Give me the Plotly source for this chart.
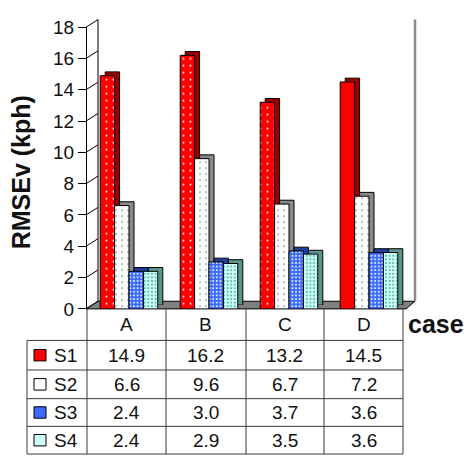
import plotly.graph_objects as go

# ---- data -------------------------------------------------------------
cases = ["A", "B", "C", "D"]
series_names = ["S1", "S2", "S3", "S4"]
s1 = [14.9, 16.2, 13.2, 14.5]
s2 = [6.6, 9.6, 6.7, 7.2]
s3 = [2.4, 3.0, 3.7, 3.6]
s4 = [2.4, 2.9, 3.5, 3.6]
y_ticks = [0, 2, 4, 6, 8, 10, 12, 14, 16, 18]

series_values = [s1, s2, s3, s4]

# ---- styling ----------------------------------------------------------
W, H = 464, 466
FONT = "Liberation Sans, Arial, sans-serif"
TXT = 19
face_colors = ["#ff0000", "#ffffff", "#3d6bff", "#ccfff8"]
side_colors = ["#9c0000", "#8a8a8a", "#1f3f9e", "#5e9490"]
dot_colors = ["#ffffff", "#6a6a6a", "#ffffff", "#2f9c90"]
dot_sizes = [7, 6, 3.6, 3.6]
dot_solid = [0.06, 0.06, 0.22, 0.18]
face_shapes = [[".", ".", ".", ""], ".", ".", "."]


def px(x):
    return x / W


def py(y):
    return 1 - y / H


# pixel geometry of the pseudo-3D box
FRONT_L, FRONT_R = 86, 406       # front floor edge
Y0, Y18 = 313, 18                # front axis 0 / 18
DX, DY = 12, 8                   # depth offset to the back wall
BAR_DX, BAR_DY = 5, 4            # bar depth
unit = (Y0 - Y18) / 18.0

fig = go.Figure()

# side/top faces of the bars (drawn first, slightly up-right)
for name, vals, sc in zip(series_names, series_values, side_colors):
    fig.add_trace(go.Bar(
        x=cases, y=vals, name=name, xaxis="x2", yaxis="y2",
        marker=dict(color=sc, line=dict(color="#000", width=1)),
        hoverinfo="skip", showlegend=False,
    ))

# front faces of the bars
for i, (name, vals) in enumerate(zip(series_names, series_values)):
    fig.add_trace(go.Bar(
        x=cases, y=vals, name=name, xaxis="x3", yaxis="y3",
        marker=dict(
            color=face_colors[i],
            line=dict(color="#000", width=1),
            pattern=dict(shape=face_shapes[i], bgcolor=face_colors[i],
                         fgcolor=dot_colors[i], size=dot_sizes[i],
                         solidity=dot_solid[i], fillmode="replace"),
        ),
        showlegend=False,
    ))

# invisible axis used to place table text by category
fig.add_trace(go.Scatter(x=cases, y=[0] * 4, xaxis="x4", yaxis="y4",
                         mode="markers", marker=dict(opacity=0),
                         hoverinfo="skip", showlegend=False))

hidden = dict(visible=False, fixedrange=True)
fig.update_layout(
    width=W, height=H,
    margin=dict(l=0, r=0, t=0, b=0),
    paper_bgcolor="white", plot_bgcolor="rgba(0,0,0,0)",
    barmode="group", bargap=0.28, bargroupgap=0,
    font=dict(family=FONT, size=TXT, color="#000"),
    # back wall with gridlines
    xaxis=dict(domain=[px(FRONT_L + DX), px(415)], range=[0, 1], **hidden),
    yaxis=dict(domain=[py(Y0 - DY), py(Y18 - DY)], range=[0, 18],
               showgrid=True, gridcolor="#303030", gridwidth=1.6,
               dtick=2, showticklabels=False, ticks="", zeroline=False,
               showline=False, fixedrange=True),
    # bar depth
    xaxis2=dict(domain=[px(FRONT_L + 3 + BAR_DX), px(FRONT_R + 3 + BAR_DX)],
                range=[-0.5, 3.5], anchor="y2", **hidden),
    yaxis2=dict(domain=[py(Y0 - BAR_DY), py(Y18 - BAR_DY)], range=[0, 18],
                anchor="x2", **hidden),
    # front faces and the value axis
    xaxis3=dict(domain=[px(FRONT_L + 3), px(FRONT_R + 3)],
                range=[-0.5, 3.5], anchor="y3", **hidden),
    yaxis3=dict(domain=[py(Y0), py(Y18)], range=[0, 18],
                anchor="free", position=px(FRONT_L),
                tickvals=y_ticks, ticks="outside", ticklen=8,
                tickcolor="#000", showline=True, linecolor="#000",
                linewidth=1, showgrid=False, zeroline=False,
                tickfont=dict(size=TXT, color="#111"), fixedrange=True),
    # table column placement
    xaxis4=dict(domain=[px(87), px(403)], range=[-0.5, 3.5], anchor="y4",
                **hidden),
    yaxis4=dict(domain=[0, 0.05], range=[0, 1], anchor="x4", **hidden),
)

shapes = []
# floor
shapes.append(dict(
    type="path", xref="paper", yref="paper", layer="below",
    path=(f"M {px(FRONT_L)} {py(Y0)} L {px(FRONT_L + DX)} {py(Y0 - DY)} "
          f"L {px(415)} {py(Y0 - DY)} L {px(FRONT_R)} {py(Y0)} Z"),
    fillcolor="#808080", line=dict(color="#000", width=1)))
# side wall gridlines
for v in y_ticks:
    yf = Y0 - v * unit
    shapes.append(dict(type="line", xref="paper", yref="paper",
                       x0=px(FRONT_L), y0=py(yf), x1=px(FRONT_L + DX),
                       y1=py(yf - DY), line=dict(color="#000", width=1)))
# back wall edges
shapes.append(dict(type="line", xref="paper", yref="paper",
                   x0=px(FRONT_L + DX), x1=px(FRONT_L + DX),
                   y0=py(Y0 - DY), y1=py(Y18 - DY),
                   line=dict(color="#000", width=1)))
shapes.append(dict(type="line", xref="paper", yref="paper",
                   x0=px(415), x1=px(415), y0=py(Y0 - DY), y1=py(Y18 - DY),
                   line=dict(color="#8c8c8c", width=2.5)))

# data table grid
col_x = [87, 166, 246, 324, 403]
row_y = [313, 346, 377, 407, 436, 465]
grid_line = dict(color="#3a3a3a", width=1)
for yv in row_y[1:]:
    shapes.append(dict(type="line", xref="paper", yref="paper",
                       x0=px(27), x1=px(col_x[-1]), y0=py(yv), y1=py(yv),
                       line=grid_line))
for xv in col_x:
    shapes.append(dict(type="line", xref="paper", yref="paper",
                       x0=px(xv), x1=px(xv), y0=py(row_y[0]),
                       y1=py(row_y[-1]), line=grid_line))
shapes.append(dict(type="line", xref="paper", yref="paper",
                   x0=px(27), x1=px(27), y0=py(row_y[1]), y1=py(row_y[-1]),
                   line=grid_line))


def label(x, y, text, size=TXT, xref="paper", xanchor="center", **kw):
    return dict(x=x, xref=xref, y=py(y), yref="paper", text=text,
                xanchor=xanchor, yanchor="middle", showarrow=False,
                font=dict(size=size, color="#111"), **kw)


annotations = []
# column headers
hy = (row_y[0] + row_y[1]) / 2
for c in cases:
    annotations.append(label(c, hy, c, xref="x4"))
annotations.append(label(px(436), hy - 1, "<b>case</b>", size=25))
# value rows with legend keys
for r, (name, vals) in enumerate(zip(series_names, series_values)):
    cy = (row_y[r + 1] + row_y[r + 2]) / 2
    for c, v in zip(cases, vals):
        annotations.append(label(c, cy, f"{v:.1f}", xref="x4"))
    annotations.append(label(px(52), cy, name, xanchor="left"))
    shapes.append(dict(type="rect", xref="paper", yref="paper",
                       x0=px(34), x1=px(46), y0=py(cy - 6), y1=py(cy + 6),
                       fillcolor=face_colors[r],
                       line=dict(color="#000", width=1)))

# value axis title
annotations.append(label(px(21), 170, "<b>RMSEv (kph)</b>", size=25,
                         textangle=-90))

fig.update_layout(shapes=shapes, annotations=annotations)
fig.write_html("out.html")
